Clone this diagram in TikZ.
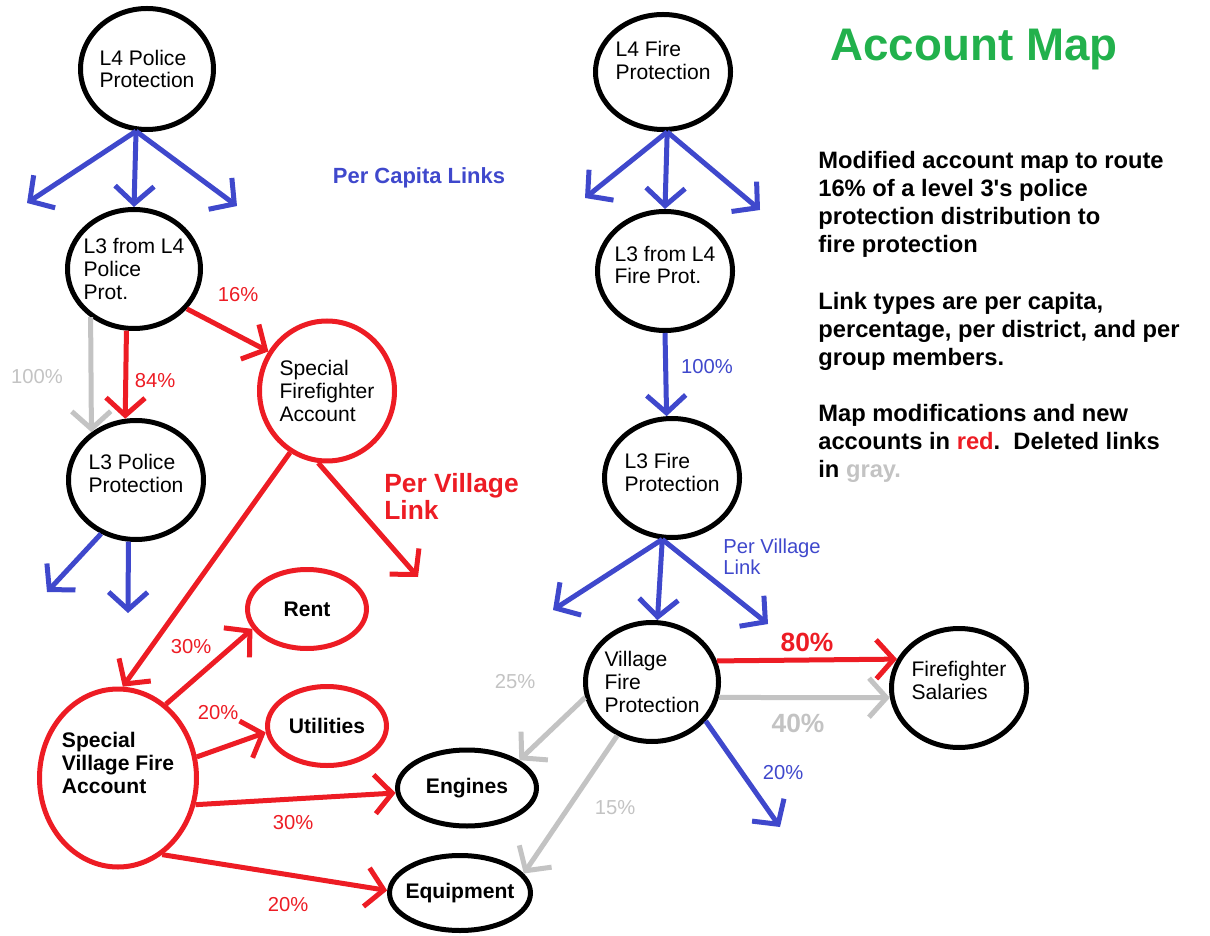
\documentclass[tikz,border=0pt]{standalone}
\usepackage{fontspec}
\setmainfont{Liberation Sans}
\usetikzlibrary{arrows.meta,shapes.geometric}
\definecolor{mpblue}{RGB}{63,72,204}
\definecolor{mpred}{RGB}{237,28,36}
\definecolor{mpgray}{RGB}{195,195,195}
\definecolor{mpgreen}{RGB}{34,177,76}
\tikzset{
  acct/.style={draw,ellipse,line width=1mm,inner sep=-1mm,align=left,font=\fontsize{12}{13}\selectfont},
  bacct/.style={acct,font=\fontsize{12}{13}\selectfont\bfseries},
  link/.style={line width=1mm,-{Straight Barb[length=3.5mm,width=7.8mm]}},
  note/.style={inner sep=0pt,align=left},
  pct/.style={inner sep=0pt,font=\fontsize{11.5}{13}\selectfont},
  bigpct/.style={inner sep=0pt,font=\fontsize{15}{17}\selectfont\bfseries}
}
\begin{document}
\begin{tikzpicture}
\useasboundingbox (0mm,0mm) rectangle (242mm,187mm);
\node[acct,minimum width=26.6mm,minimum height=24.2mm] (l4_pol) at (29.4mm,173.2mm) {L4 Police\\Protection};
\node[acct,minimum width=26.6mm,minimum height=23.8mm] (l3_l4pol) at (26.8mm,133.2mm) {L3 from L4\\Police\\Prot.};
\node[acct,minimum width=27mm,minimum height=23.8mm] (l3_pol) at (27.2mm,91mm) {L3 Police\\Protection\\[-5pt]\mbox{}};
\node[acct,minimum width=27mm,minimum height=23mm] (l4_fire) at (132.6mm,172.6mm) {L4 Fire\\Protection\\[0.5pt]\mbox{}};
\node[acct,minimum width=27mm,minimum height=23.8mm] (l3_l4fire) at (133mm,132.8mm) {L3 from L4\\Fire Prot.\\[-6pt]\mbox{}};
\node[acct,minimum width=27mm,minimum height=23.8mm] (l3_fire) at (134.4mm,91.4mm) {L3 Fire\\Protection\\[-7pt]\mbox{}};
\node[acct,minimum width=26.6mm,minimum height=23.8mm] (v_fire) at (130.4mm,50.6mm) {Village\\Fire\\Protection};
\node[acct,minimum width=27mm,minimum height=23.8mm] (ff_sal) at (191.8mm,49.4mm) {Firefighter\\Salaries\\[-4pt]\mbox{}};
\node[acct,draw=mpred,minimum width=27mm,minimum height=28mm] (sp_ff) at (65.4mm,108.8mm) {Special\\Firefighter\\Account};
\node[bacct,draw=mpred,minimum width=31.4mm,minimum height=35.6mm] (sv_fire) at (23.6mm,31.4mm) {Special\\Village Fire\\Account\\[4pt]\mbox{}};
\node[bacct,draw=mpred,minimum width=23.8mm,minimum height=15.8mm] (rent) at (61.4mm,65.2mm) {Rent};
\node[bacct,draw=mpred,minimum width=23.8mm,minimum height=15.8mm] (util) at (65.4mm,41.8mm) {Utilities};
\node[bacct,minimum width=27.8mm,minimum height=15.2mm] (eng) at (93.4mm,29.4mm) {Engines};
\node[bacct,minimum width=28.2mm,minimum height=15mm] (equip) at (92mm,8.4mm) {Equipment};
\coordinate (d_l4pol_l) at (5.4mm,146.4mm);
\coordinate (d_l4pol_r) at (47.4mm,145.8mm);
\coordinate (d_l4fire_l) at (117mm,147.4mm);
\coordinate (d_l4fire_r) at (152mm,145mm);
\coordinate (d_l3pol_l) at (9.4mm,68.6mm);
\coordinate (d_l3pol_m) at (25.6mm,64.4mm);
\coordinate (d_spff) at (83.6mm,71.6mm);
\coordinate (d_l3fire_l) at (110.6mm,65mm);
\coordinate (d_l3fire_r) at (153.6mm,62.2mm);
\coordinate (d_vfire) at (156mm,21.6mm);
\draw[link,mpblue] (l4_pol.-100) -- (d_l4pol_l);
\draw[link,mpblue] (l4_pol.-100) -- (l3_l4pol.north);
\draw[link,mpblue] (l4_pol.-100) -- (d_l4pol_r);
\draw[link,mpblue] (l4_fire.-86) -- (d_l4fire_l);
\draw[link,mpblue] (l4_fire.-86) -- (l3_l4fire.north);
\draw[link,mpblue] (l4_fire.-86) -- (d_l4fire_r);
\draw[link,mpgray] (l3_l4pol.-132) -- (l3_pol.133);
\draw[link,mpred] (l3_l4pol.-97) -- (l3_pol.100);
\draw[link,mpred] (l3_l4pol.-37) -- (sp_ff.146);
\draw[link,mpblue] (l3_pol.-123) -- (d_l3pol_l);
\draw[link,mpblue] (l3_pol.-97) -- (d_l3pol_m);
\draw[link,mpred] (sp_ff.-121) -- (sv_fire.87);
\draw[link,mpred] (sp_ff.-97) -- (d_spff);
\draw[link,mpblue] (l3_l4fire.south) -- (l3_fire.95);
\draw[link,mpblue] (l3_fire.-99) -- (d_l3fire_l);
\draw[link,mpblue] (l3_fire.-99) -- (v_fire.85);
\draw[link,mpblue] (l3_fire.-99) -- (d_l3fire_r);
\draw[link,mpred] (v_fire.18) -- (ff_sal.155);
\draw[link,mpgray] (v_fire.-13) -- (ff_sal.188);
\draw[link,mpblue] (v_fire.-36) -- (d_vfire);
\draw[link,mpgray] (v_fire.-167) -- (eng.28);
\draw[link,mpgray] (v_fire.-123) -- (equip.17);
\draw[link,mpred] (sv_fire.57) -- (rent.200);
\draw[link,mpred] (sv_fire.15) -- (util.186);
\draw[link,mpred] (sv_fire.-19) -- (eng.184);
\draw[link,mpred] (sv_fire.-60) -- (equip.178);
\node[inner sep=0pt,font=\fontsize{26}{30}\selectfont\bfseries,text=mpgreen] (title) at (194.8mm,177mm) {Account Map};
\node[inner sep=0pt,font=\fontsize{12.5}{15}\selectfont\bfseries,text=mpblue] (pc_lbl) at (83.8mm,151.4mm) {Per Capita Links};
\node[note,anchor=west,font=\fontsize{15}{15.5}\selectfont\bfseries,text=mpred] (pv_red) at (76.8mm,87.7mm) {Per Village\\Link};
\node[note,anchor=west,font=\fontsize{11.5}{12}\selectfont,text=mpblue] (pv_blue) at (144.6mm,75.6mm) {Per Village\\Link};
\node[note,anchor=west,font=\fontsize{13.5}{16}\selectfont\bfseries] (notes) at (163.6mm,123.6mm) {Modified account map to route\\16\% of a level 3\textquotesingle s police\\protection distribution to\\fire protection\\[16pt]Link types are per capita,\\percentage, per district, and per\\group members.\\[16pt]Map modifications and new\\accounts in \textcolor{mpred}{red}.\ \ Deleted links\\in \textcolor{mpgray}{gray.}};
\node[pct,text=mpred] (p_16) at (47.6mm,128mm) {16\%};
\node[pct,text=mpgray] (p_100g) at (7.4mm,111.6mm) {100\%};
\node[pct,text=mpred] (p_84) at (31mm,110.8mm) {84\%};
\node[pct,text=mpblue] (p_100b) at (141.4mm,113.6mm) {100\%};
\node[bigpct,text=mpred] (p_80) at (161.4mm,58.6mm) {80\%};
\node[bigpct,text=mpgray] (p_40) at (159.6mm,42.4mm) {40\%};
\node[pct,text=mpblue] (p_20b) at (156.6mm,32.4mm) {20\%};
\node[pct,text=mpgray] (p_25) at (103mm,50.6mm) {25\%};
\node[pct,text=mpgray] (p_15) at (123mm,25.4mm) {15\%};
\node[pct,text=mpred] (p_30r) at (38.2mm,57.6mm) {30\%};
\node[pct,text=mpred] (p_20u) at (43.6mm,44.4mm) {20\%};
\node[pct,text=mpred] (p_30e) at (58.6mm,22.4mm) {30\%};
\node[pct,text=mpred] (p_20q) at (57.6mm,6mm) {20\%};
\end{tikzpicture}
\end{document}
